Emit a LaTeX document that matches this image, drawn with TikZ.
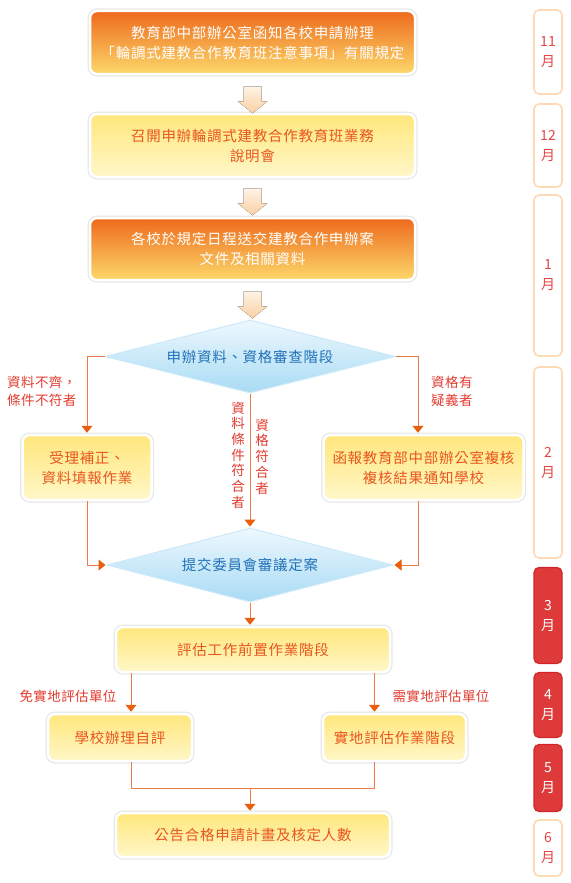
\documentclass[tikz,border=0pt]{standalone}
\usepackage{fontspec}
\setmainfont{Noto Sans CJK TC}
\newfontfamily\boxfont{Noto Sans CJK TC}[LetterSpace=5]
\newfontfamily\labfont{Noto Sans CJK TC}[LetterSpace=3]
\usetikzlibrary{shapes.geometric,arrows.meta,calc}
\definecolor{oTop}{HTML}{EE6A1C}
\definecolor{oMid}{HTML}{F39C3C}
\definecolor{oBot}{HTML}{FCD86A}
\definecolor{yTop}{HTML}{FFE77C}
\definecolor{yBot}{HTML}{FFF7C8}
\definecolor{yText}{HTML}{E8561F}
\definecolor{dTop}{HTML}{EEF8FE}
\definecolor{dBot}{HTML}{A8DBF4}
\definecolor{dEdge}{HTML}{CBE9F8}
\definecolor{dText}{HTML}{2172B8}
\definecolor{linec}{HTML}{EE7B45}
\definecolor{arrc}{HTML}{E8600F}
\definecolor{labc}{HTML}{E23C30}
\definecolor{monb}{HTML}{FDD9B8}
\definecolor{monc}{HTML}{E64545}
\definecolor{redFill}{HTML}{DE3A3A}
\definecolor{redOut}{HTML}{D0262A}
\definecolor{fTop}{HTML}{FEF3E6}
\definecolor{fBot}{HTML}{FAD0A2}
\definecolor{rimc}{HTML}{E8E8E8}
\tikzset{
  basebox/.style={rectangle, rounded corners=7pt, draw=white, line width=2.5pt,
    align=center, inner sep=0pt, font=\boxfont\fontsize{14.5}{20}\selectfont,
    preaction={draw=rimc, line width=5pt}},
  obox/.style={basebox, top color=oTop, middle color=oMid, bottom color=oBot, text=white},
  ybox/.style={basebox, top color=yTop, bottom color=yBot, text=yText},
  dbox/.style={diamond, aspect=3.9, inner sep=0pt, draw=dEdge, line width=1pt,
    top color=dTop, bottom color=dBot, text=dText, font=\boxfont\fontsize{14.5}{20}\selectfont},
  conn/.style={draw=linec, line width=1pt, -{Triangle[width=11pt,length=7pt,color=arrc]}, shorten >=1pt},
  plainline/.style={draw=linec, line width=1pt},
  lab/.style={text=labc, font=\labfont\fontsize{13.5}{18}\selectfont, inner sep=0pt},
  vlab/.style={text=labc, font=\labfont\fontsize{13.5}{15.7}\selectfont, inner sep=0pt, align=center},
  mon/.style={rectangle, rounded corners=5pt, draw=monb, line width=1.6pt, fill=white,
    minimum width=28pt, text=monc, font=\fontsize{14}{20}\selectfont, align=center, inner sep=0pt},
  monr/.style={mon, draw=redOut, line width=1.2pt, fill=redFill, text=white},
  fatarrow/.pic={\fill[top color=fTop, bottom color=fBot]
    (-9,0) -- (9,0) -- (9,15) -- (15,15) -- (0,27) -- (-15,15) -- (-9,15) -- cycle;}
}
\begin{document}
\begin{tikzpicture}[x=1pt,y=-1pt]
\useasboundingbox (0,0) rectangle (570,883);
\fill[white] (0,0) rectangle (570,883);

% main boxes
\node[obox, minimum width=325pt, minimum height=63pt] (b1) at (252.5,42.5)
  {教育部中部辦公室函知各校申請辦理\\「輪調式建教合作教育班注意事項」有關規定};
\node[ybox, minimum width=325pt, minimum height=63pt] (b2) at (252.5,145.5)
  {召開申辦輪調式建教合作教育班業務\\說明會};
\node[obox, minimum width=325pt, minimum height=62pt] (b3) at (252.5,249)
  {各校於規定日程送交建教合作申辦案\\文件及相關資料};

\coordinate (fa1) at ($(b1.south)+(0,11)$);
\coordinate (fa2) at ($(b2.south)+(0,10)$);
\coordinate (fa3) at ($(b3.south)+(0,10)$);
\pic at (fa1) {fatarrow};
\pic at (fa2) {fatarrow};
\pic at (fa3) {fatarrow};

\node[dbox, minimum width=290pt, minimum height=73pt] (d1) at (250,356.5) {申辦資料、資格審查階段};

\node[ybox, minimum width=129pt, minimum height=65pt] (lb) at (87,467.5)
  {受理補正、\\資料填報作業};
\node[ybox, minimum width=200pt, minimum height=65pt] (rb) at (423.5,467.5)
  {函報教育部中部辦公室複核\\複核結果通知學校};

\node[dbox, minimum width=286pt, minimum height=74pt] (d2) at (250,565) {提交委員會審議定案};

\node[ybox, minimum width=274pt, minimum height=45pt] (b4) at (253,649.5) {評估工作前置作業階段};
\node[ybox, minimum width=144pt, minimum height=47pt] (lb2) at (120,737.5) {學校辦理自評};
\node[ybox, minimum width=143pt, minimum height=47pt] (rb2) at (394.5,737.5) {實地評估作業階段};
\node[ybox, minimum width=274pt, minimum height=44pt] (b5) at (253,835) {公告合格申請計畫及核定人數};

% labels
\node[lab, anchor=west, align=left] (l1) at (7,391) {資料不齊，\\條件不符者};
\node[lab, anchor=west, align=left] (l2) at (431,391) {資格有\\疑義者};
\node[vlab] (l3) at (238,455) {資\\料\\條\\件\\符\\合\\者};
\node[vlab] (l4) at (262,456.5) {資\\格\\符\\合\\者};
\node[lab] (l5) at (68,696) {免實地評估單位};
\node[lab] (l6) at (441,696) {需實地評估單位};

% connectors
\coordinate (rx) at (418,0);
\coordinate (cl) at (131,0);
\coordinate (cr) at (374.5,0);
\coordinate (cm) at (250,788);
\draw[conn] (d1.west) -| (lb.north);
\draw[conn] (d1.east) -| (rb.north -| rx);
\draw[conn] (d1.south) -- (d2.north);
\draw[conn] (lb.south) |- (d2.west);
\draw[conn] (rb.south -| rx) |- (d2.east);
\draw[conn] (d2.south) -- (d2.south |- b4.north);
\draw[conn] (b4.south -| cl) -- (lb2.north -| cl);
\draw[conn] (b4.south -| cr) -- (rb2.north -| cr);
\draw[plainline] (lb2.south -| cl) |- (cm) -| (rb2.south -| cr);
\draw[conn] (cm) -- (b5.north -| cm);

% months
\node[mon, minimum height=84pt] (m11) at (548,52) {11\\月};
\node[mon, minimum height=83pt] (m12) at (548,145.5) {12\\月};
\node[mon, minimum height=161pt] (m1) at (548,275.5) {1\\月};
\node[mon, minimum height=191pt] (m2) at (548,462.5) {2\\月};
\node[monr, minimum height=96pt] (m3) at (548,615.5) {3\\月};
\node[monr, minimum height=65pt] (m4) at (548,705) {4\\月};
\node[monr, minimum height=67pt] (m5) at (548,778) {5\\月};
\node[mon, minimum height=56pt] (m6) at (548,848) {6\\月};
\end{tikzpicture}
\end{document}
